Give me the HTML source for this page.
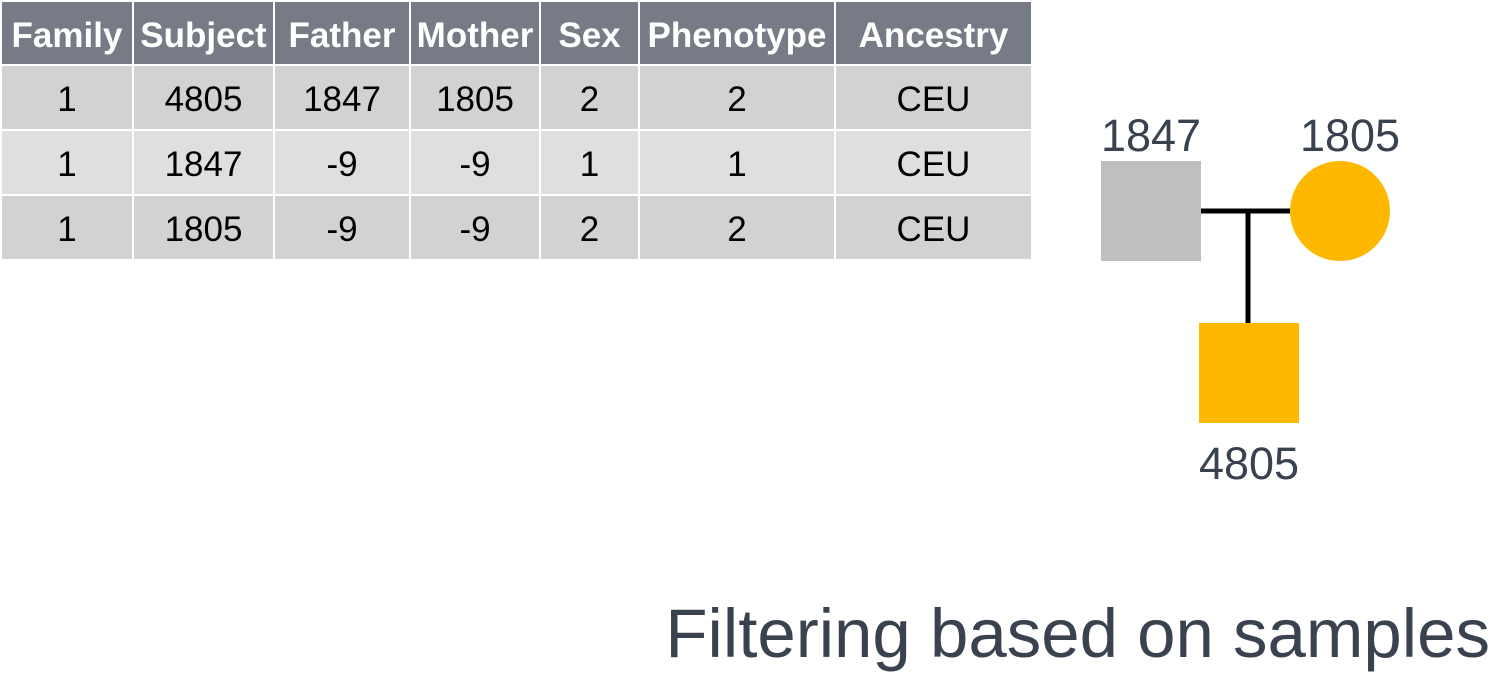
<!DOCTYPE html>
<html><head><style>
body{margin:0;width:1497px;height:677px;background:#fff;position:relative;overflow:hidden;font-family:"Liberation Sans",sans-serif}
.c{position:absolute;display:flex;align-items:center;justify-content:center;box-sizing:border-box;font-size:35px;color:#000;padding-top:5px}
.h{background:#767b86;color:#fff;font-weight:bold;font-size:35px}
.lbl{position:absolute;font-size:45px;color:#3a4250;transform:translateX(-50%)}
</style></head><body>
<div id="tbl"></div>
<svg width="1497" height="677" style="position:absolute;left:0;top:0">
<line x1="1200" y1="211" x2="1292" y2="211" stroke="#000" stroke-width="5"/>
<line x1="1248" y1="211" x2="1248" y2="324" stroke="#000" stroke-width="5"/>
<rect x="1101" y="161" width="100" height="100" fill="#bfbfbf"/>
<circle cx="1340" cy="211" r="50" fill="#ffb800"/>
<rect x="1199" y="323" width="100" height="100" fill="#ffb800"/>
</svg>
<div class="lbl" style="left:1151px;top:110px">1847</div>
<div class="lbl" style="left:1350px;top:110px">1805</div>
<div class="lbl" style="left:1249px;top:438px">4805</div>
<div style="position:absolute;right:7px;top:594px;font-size:69px;color:#3a4250;white-space:nowrap">Filtering based on samples</div>
<script>
const cols=[2,134,275,411,541,640,836,1031];
const rowsY=[2,66,131,196,261];
const header=["Family","Subject","Father","Mother","Sex","Phenotype","Ancestry"];
const rows=[["1","4805","1847","1805","2","2","CEU"],["1","1847","-9","-9","1","1","CEU"],["1","1805","-9","-9","2","2","CEU"]];
const bgs=["#d1d2d4","#dfdfdf","#d1d2d4"];
const t=document.getElementById('tbl');
[header].concat(rows).forEach((r,ri)=>{r.forEach((v,ci)=>{
const d=document.createElement('div');
d.className='c'+(ri===0?' h':'');


d.style.left=cols[ci]+'px';d.style.top=rowsY[ri]+'px';
d.style.width=(cols[ci+1]-cols[ci]-(ci<6?2:0))+'px';
d.style.height=(rowsY[ri+1]-rowsY[ri]-2)+'px';
if(ri>0)d.style.background=bgs[ri-1];
d.textContent=v;t.appendChild(d);});});
</script>
</body></html>
